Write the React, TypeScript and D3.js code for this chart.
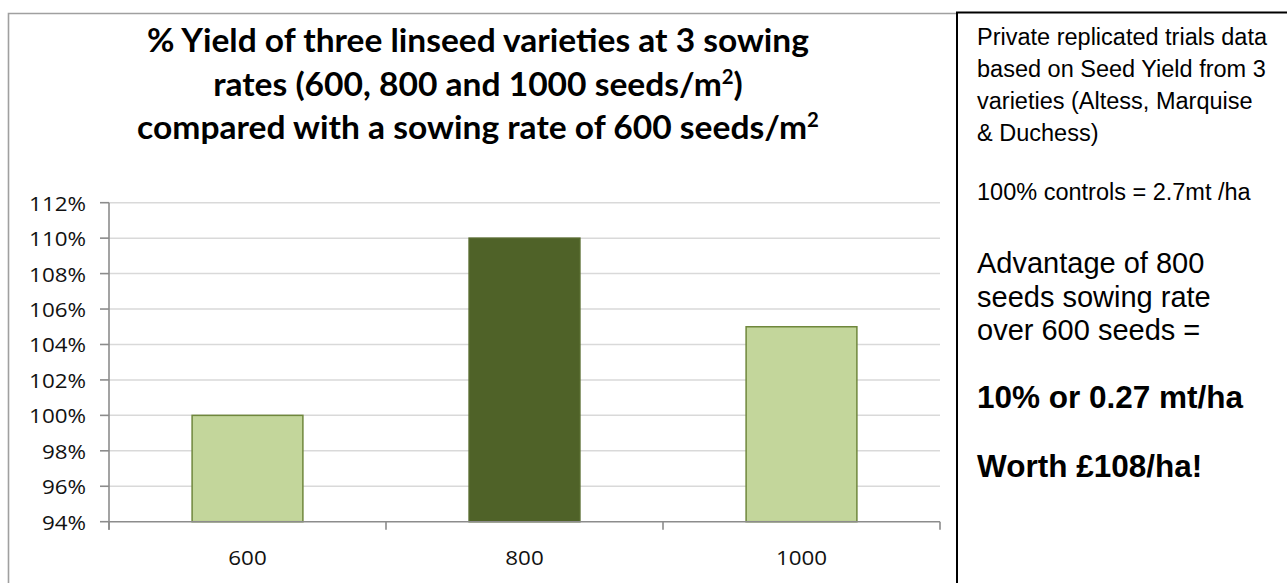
// App
import { useEffect, useRef } from 'react';
import * as d3 from 'd3';

// chart values
const categories: string[] = ['600', '800', '1000'];
const yieldPercent: number[] = [100, 110, 105];
const yTicks: number[] = [94, 96, 98, 100, 102, 104, 106, 108, 110, 112];
const highlighted = '800';

// title lines, odd pieces are superscript
const titleLines: string[][] = [
	['% Yield of three linseed varieties at 3 sowing'],
	['rates (600, 800 and 1000 seeds/m', '2', ')'],
	['compared with a sowing rate of 600 seeds/m', '2']
];

// side panel text
const sourceLines: string[] = [
	'Private replicated trials data',
	'based on Seed Yield from 3',
	'varieties (Altess, Marquise',
	'& Duchess)'
];
const controlNote = '100% controls = 2.7mt /ha';
const advantageLines: string[] = ['Advantage of 800', 'seeds sowing rate', 'over 600 seeds ='];
const resultLines: string[] = ['10% or 0.27 mt/ha', 'Worth £108/ha!'];

const W = 1287;
const H = 583;

function App() {
	const ref = useRef<SVGSVGElement>(null);

	useEffect(() => {
		document.body.style.margin = '0';
		const svg = d3.select(ref.current);
		svg.selectAll('*').remove();

		svg.append('rect').attr('width', W).attr('height', H).attr('fill', '#fff');

		// plot area
		const plot = { left: 109, right: 940, top: 202.7, bottom: 521.7 };

		const x = d3
			.scaleBand<string>()
			.domain(categories)
			.range([plot.left, plot.right])
			.paddingInner(0.6)
			.paddingOuter(0.3);

		const y = d3.scaleLinear().domain([94, 112]).range([plot.bottom, plot.top]);

		// chart frame
		svg.append('path')
			.attr('d', `M8.5,${H} V13.5 H956`)
			.attr('fill', 'none')
			.attr('stroke', '#a0a0a0')
			.attr('stroke-width', 1.6);

		// title
		const title = svg
			.append('g')
			.style('font-family', 'Lato, "Open Sans", sans-serif')
			.style('font-weight', 700)
			.style('font-size', '33px')
			.attr('fill', '#000');
		const titleBase = [52.5, 96, 139];
		const titleWidth = [662, 530, 682];
		const cx = 478;
		titleLines.forEach((pieces, i) => {
			const t = title.append('text').attr('x', cx).attr('y', titleBase[i]).attr('text-anchor', 'middle');
			pieces.forEach((p, k) => {
				const ts = t.append('tspan').text(p);
				if (k % 2 === 1) ts.attr('dy', -12).style('font-size', '20px');
				else if (k > 0) ts.attr('dy', 12);
			});
			const w = (t.node() as SVGTextElement).getComputedTextLength();
			if (w > 0) {
				const s = titleWidth[i] / w;
				t.attr('transform', `translate(${cx},0) scale(${s},1) translate(${-cx},0)`);
			}
		});

		// gridlines
		svg.append('g')
			.selectAll('line')
			.data(yTicks.filter((d) => d > 94))
			.enter()
			.append('line')
			.attr('x1', plot.left)
			.attr('x2', plot.right)
			.attr('y1', (d) => y(d))
			.attr('y2', (d) => y(d))
			.attr('stroke', '#d9d9d9')
			.attr('stroke-width', 1.5);

		// bars
		svg.append('g')
			.selectAll('rect')
			.data(categories)
			.enter()
			.append('rect')
			.attr('x', (d) => x(d) as number)
			.attr('width', x.bandwidth())
			.attr('y', (_d, i) => y(yieldPercent[i]))
			.attr('height', (_d, i) => y(94) - y(yieldPercent[i]))
			.attr('fill', (d) => (d === highlighted ? '#4f6228' : '#c3d69b'))
			.attr('stroke', (d) => (d === highlighted ? '#55692c' : '#6f873c'))
			.attr('stroke-width', 1.5);

		// y axis
		const axisColor = '#8c8c8c';
		svg.append('line')
			.attr('x1', plot.left)
			.attr('x2', plot.left)
			.attr('y1', plot.top)
			.attr('y2', plot.bottom + 8)
			.attr('stroke', axisColor)
			.attr('stroke-width', 1.6);
		svg.append('g')
			.selectAll('line')
			.data(yTicks)
			.enter()
			.append('line')
			.attr('x1', plot.left - 9)
			.attr('x2', plot.left)
			.attr('y1', (d) => y(d))
			.attr('y2', (d) => y(d))
			.attr('stroke', axisColor)
			.attr('stroke-width', 1.6);

		const labelFont = '"Open Sans", Lato, sans-serif';
		const sx = 1.12;
		svg.append('g')
			.selectAll('text')
			.data(yTicks)
			.enter()
			.append('text')
			.attr('transform', (d) => `translate(86,${y(d) + 8}) scale(${sx},1)`)
			.attr('text-anchor', 'end')
			.style('font-family', labelFont)
			.style('font-size', '20px')
			.attr('fill', '#111')
			.text((d) => `${d}%`);

		// x axis
		svg.append('line')
			.attr('x1', plot.left)
			.attr('x2', plot.right)
			.attr('y1', plot.bottom)
			.attr('y2', plot.bottom)
			.attr('stroke', axisColor)
			.attr('stroke-width', 1.6);
		const step = x.step();
		const bounds = d3.range(categories.length + 1).map((i) => plot.left + i * step);
		svg.append('g')
			.selectAll('line')
			.data(bounds)
			.enter()
			.append('line')
			.attr('x1', (d) => d)
			.attr('x2', (d) => d)
			.attr('y1', plot.bottom)
			.attr('y2', plot.bottom + 8)
			.attr('stroke', axisColor)
			.attr('stroke-width', 1.6);
		svg.append('g')
			.selectAll('text')
			.data(categories)
			.enter()
			.append('text')
			.attr('transform', (d) => `translate(${(x(d) as number) + x.bandwidth() / 2},565) scale(${sx},1)`)
			.attr('text-anchor', 'middle')
			.style('font-family', labelFont)
			.style('font-size', '20px')
			.attr('fill', '#111')
			.text((d) => d);

		// side panel
		svg.append('path')
			.attr('d', `M957,${H} V12.5 H${W}`)
			.attr('fill', 'none')
			.attr('stroke', '#000')
			.attr('stroke-width', 2);

		const side = svg
			.append('g')
			.style('font-family', '"Liberation Sans", Arial, sans-serif')
			.attr('fill', '#000');
		const px = 977;
		sourceLines.forEach((line, i) => {
			side.append('text').attr('x', px).attr('y', 44.5 + i * 32.2).style('font-size', '23.5px').text(line);
		});
		side.append('text').attr('x', px).attr('y', 199.5).style('font-size', '23.5px').text(controlNote);
		advantageLines.forEach((line, i) => {
			side.append('text').attr('x', px).attr('y', 273 + i * 33.5).style('font-size', '29px').text(line);
		});
		resultLines.forEach((line, i) => {
			side.append('text')
				.attr('x', px)
				.attr('y', 408 + i * 68.7)
				.style('font-size', '31.5px')
				.style('font-weight', 700)
				.text(line);
		});
	}, []);

	return <svg ref={ref} width={W} height={H} style={{ display: 'block' }} />;
}

export default App;
